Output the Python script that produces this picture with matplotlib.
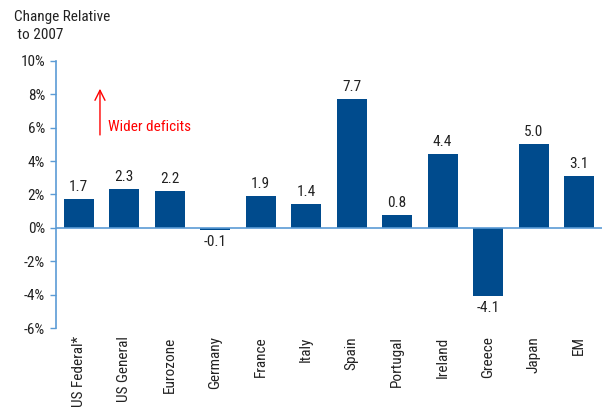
import matplotlib
matplotlib.use("Agg")
import matplotlib.pyplot as plt
from matplotlib import font_manager

names = {f.name for f in font_manager.fontManager.ttflist}
fam = ['Liberation Sans Narrow', 'DejaVu Sans'] if 'Liberation Sans Narrow' in names else ['Roboto Condensed', 'Liberation Sans', 'DejaVu Sans']
plt.rcParams['font.family'] = fam

categories = ["US Federal*", "US General", "Eurozone", "Germany", "France", "Italy",
              "Spain", "Portugal", "Ireland", "Greece", "Japan", "EM"]
values = [1.7, 2.3, 2.2, -0.1, 1.9, 1.4, 7.7, 0.8, 4.4, -4.1, 5.0, 3.1]
yticks = [-6, -4, -2, 0, 2, 4, 6, 8, 10]

bar_color = "#004B8D"
axis_color = "#5B9BD5"
text_color = "#222222"

fig = plt.figure(figsize=(6.06, 4.09), dpi=100)
ax = fig.add_axes([0.0924, 0.198, 0.9006, 0.653])
x = list(range(len(categories)))
ax.bar(x, values, width=0.66, color=bar_color, zorder=2)
ax.set_xlim(-0.5, len(categories) - 0.5)
ax.set_ylim(-6, 10)
ax.set_yticks(yticks)
ax.set_yticklabels([f"{t}%" for t in yticks], fontsize=11, color=text_color)
ax.set_xticks(x)
ax.set_xticklabels(categories, rotation=90, fontsize=11, color=text_color)
ax.tick_params(axis='x', length=0, pad=6)
ax.tick_params(axis='y', length=4, color=axis_color, width=1, pad=4)
for s in ['top', 'right', 'bottom']:
    ax.spines[s].set_visible(False)
ax.spines['left'].set_color(axis_color)
ax.spines['left'].set_linewidth(1.2)
ax.axhline(0, color=axis_color, lw=1.2, zorder=3)

for xi, v in zip(x, values):
    if v >= 0:
        ax.text(xi, v + 0.3, f"{v:.1f}", ha='center', va='bottom', fontsize=11, color=text_color)
    else:
        ax.text(xi, v - 0.3, f"{v:.1f}", ha='center', va='top', fontsize=11, color=text_color)

ax.annotate("", xy=(0.467, 8.5), xytext=(0.467, 5.4),
            arrowprops=dict(arrowstyle='->', color='red', lw=1.0, mutation_scale=18))
ax.text(0.65, 6.05, "Wider deficits", color='red', fontsize=11, ha='left', va='center')

fig.text(0.023, 0.975, "Change Relative\n to 2007", fontsize=11, color=text_color,
         ha='left', va='top', linespacing=1.3)

fig.savefig("out.png", dpi=100)
